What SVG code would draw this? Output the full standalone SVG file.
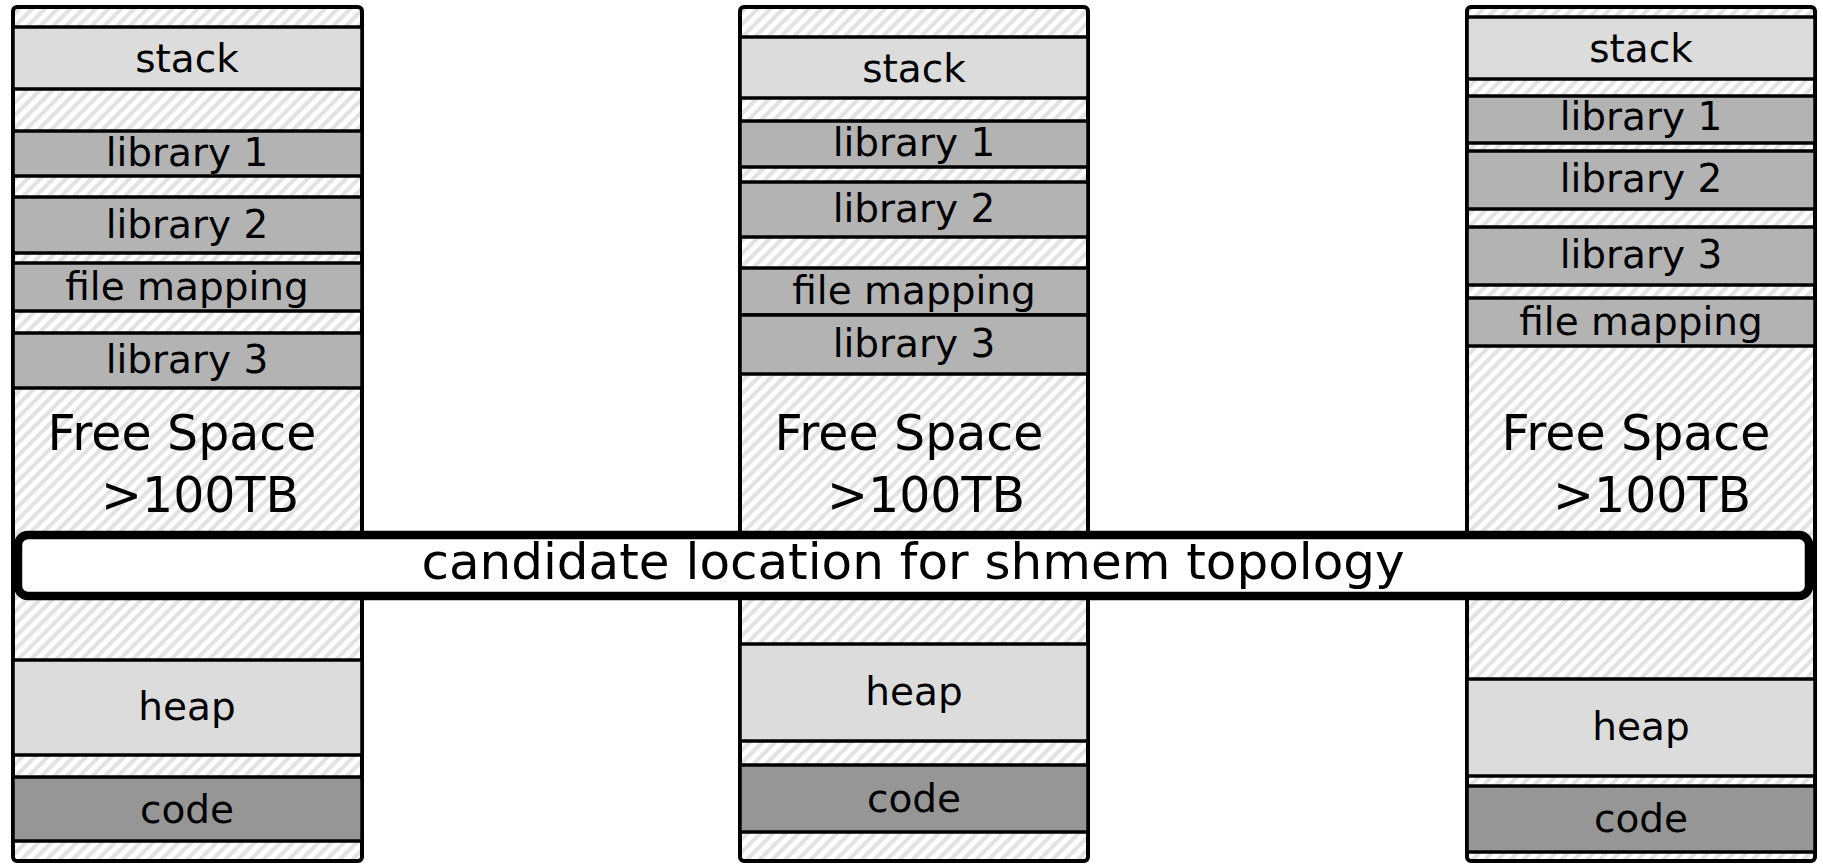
<svg xmlns="http://www.w3.org/2000/svg" width="1823" height="864" viewBox="0 0 1823 864">
  <defs>
    <pattern id="hatch" patternUnits="userSpaceOnUse" width="9" height="9" patternTransform="rotate(45)">
      <rect width="9" height="9" fill="#ffffff"/>
      <rect width="4" height="9" fill="#e2e2e2"/>
    </pattern>
  </defs>
  <style>
    .space { fill: url(#hatch); stroke: #000; stroke-width: 4; }
    .seg { stroke: #000; stroke-width: 3.5; }
    .light { fill: #dcdcdc; }
    .lib { fill: #b3b3b3; }
    .code { fill: #969696; }
    .lbl { font-family: "DejaVu Sans", sans-serif; font-size: 39px; text-anchor: middle; fill: #000; }
    .free { font-family: "DejaVu Sans", sans-serif; font-size: 49px; text-anchor: middle; fill: #000; }
    .shmem { fill: #fff; stroke: #000; stroke-width: 8.5; }
    .shlbl { font-family: "DejaVu Sans", sans-serif; font-size: 50px; text-anchor: middle; fill: #000; }
  </style>

  <!-- layout A -->
  <g id="layout-a">
    <rect class="space" x="13" y="7" width="349" height="854" rx="4"/>
    <rect class="seg light" x="13" y="27" width="349" height="62"/>
    <text class="lbl" x="187" y="72">stack</text>
    <rect class="seg lib" x="13" y="131" width="349" height="45"/>
    <text class="lbl" x="187" y="166">library 1</text>
    <rect class="seg lib" x="13" y="197" width="349" height="56"/>
    <text class="lbl" x="187" y="238">library 2</text>
    <rect class="seg lib" x="13" y="263" width="349" height="48"/>
    <text class="lbl" x="187" y="300">file mapping</text>
    <rect class="seg lib" x="13" y="333" width="349" height="55"/>
    <text class="lbl" x="187" y="373">library 3</text>
    <text class="free" x="182" y="450">Free Space</text>
    <text class="free" x="200" y="512">&gt;100TB</text>
    <rect class="seg light" x="13" y="660" width="349" height="95"/>
    <text class="lbl" x="187" y="720">heap</text>
    <rect class="seg code" x="13" y="777" width="349" height="64"/>
    <text class="lbl" x="187" y="823">code</text>
  </g>

  <!-- layout B -->
  <g id="layout-b">
    <rect class="space" x="740" y="7" width="348" height="854" rx="4"/>
    <rect class="seg light" x="740" y="37" width="348" height="61"/>
    <text class="lbl" x="914" y="82">stack</text>
    <rect class="seg lib" x="740" y="121" width="348" height="46"/>
    <text class="lbl" x="914" y="156">library 1</text>
    <rect class="seg lib" x="740" y="182" width="348" height="55"/>
    <text class="lbl" x="914" y="222">library 2</text>
    <rect class="seg lib" x="740" y="268" width="348" height="47"/>
    <text class="lbl" x="914" y="304">file mapping</text>
    <rect class="seg lib" x="740" y="315" width="348" height="59"/>
    <text class="lbl" x="914" y="357">library 3</text>
    <text class="free" x="909" y="450">Free Space</text>
    <text class="free" x="926" y="512">&gt;100TB</text>
    <rect class="seg light" x="740" y="644" width="348" height="97"/>
    <text class="lbl" x="914" y="705">heap</text>
    <rect class="seg code" x="740" y="765" width="348" height="67"/>
    <text class="lbl" x="914" y="812">code</text>
  </g>

  <!-- layout C -->
  <g id="layout-c">
    <rect class="space" x="1467" y="7" width="348" height="854" rx="4"/>
    <rect class="seg light" x="1467" y="17" width="348" height="62"/>
    <text class="lbl" x="1641" y="62">stack</text>
    <rect class="seg lib" x="1467" y="96" width="348" height="47"/>
    <text class="lbl" x="1641" y="130">library 1</text>
    <rect class="seg lib" x="1467" y="151" width="348" height="58"/>
    <text class="lbl" x="1641" y="192">library 2</text>
    <rect class="seg lib" x="1467" y="227" width="348" height="58"/>
    <text class="lbl" x="1641" y="268">library 3</text>
    <rect class="seg lib" x="1467" y="298" width="348" height="48"/>
    <text class="lbl" x="1641" y="335">file mapping</text>
    <text class="free" x="1636" y="450">Free Space</text>
    <text class="free" x="1652" y="512">&gt;100TB</text>
    <rect class="seg light" x="1467" y="679" width="348" height="97"/>
    <text class="lbl" x="1641" y="740">heap</text>
    <rect class="seg code" x="1467" y="786" width="348" height="66"/>
    <text class="lbl" x="1641" y="832">code</text>
  </g>

  <!-- shared band across all layouts -->
  <g id="shmem-band">
    <rect class="shmem" x="18" y="535" width="1791" height="61" rx="10"/>
    <text class="shlbl" x="913" y="579">candidate location for shmem topology</text>
  </g>
</svg>
